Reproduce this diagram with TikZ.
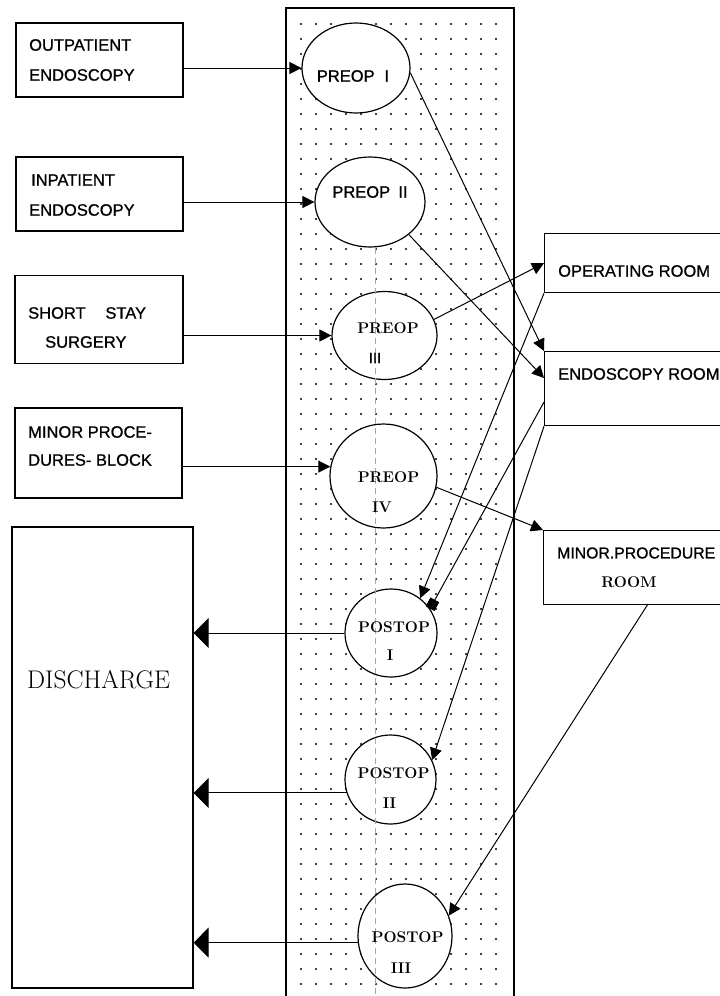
\documentclass[tikz,border=0pt]{standalone}
\usepackage{fontspec}
\newfontfamily\dsans[FakeBold=0.9]{Liberation Sans}
\usetikzlibrary{arrows.meta,shapes.geometric}
\begin{document}
\begin{tikzpicture}[x=1pt,y=-1pt,
  box/.style={draw,line width=1.3pt,rectangle,inner sep=0pt},
  oval/.style={draw,line width=1.2pt,ellipse,fill=white,inner sep=0pt},
  arr/.style={line width=1pt,-{Triangle[length=12pt,width=12pt]}},
  bigarr/.style={line width=1pt,-{Triangle[length=15pt,width=30pt]}},
  sqarr/.style={line width=1pt,-{Square[length=10pt,width=10pt]}},
  sl/.style={font=\dsans\fontsize{16.5}{17}\selectfont,inner sep=0pt,anchor=west},
  sc/.style={font=\dsans\fontsize{16.5}{17}\selectfont,inner sep=0pt},
  rc/.style={font=\bfseries\fontsize{15.5}{17}\selectfont,inner sep=0pt},
]
\useasboundingbox (0,0) rectangle (720,996);
% dotted column
\foreach \i in {0,...,13}{\foreach \j in {0,...,65}{\fill (301+15*\i,24+15*\j) circle (1.2pt);}}
\draw[line width=1.3pt] (286,1000) -- (286,8) -- (514,8) -- (514,1000);

% left boxes
\node[box,minimum width=167pt,minimum height=74pt] (out) at (99.5,60) {};
\node[box,minimum width=167pt,minimum height=74pt] (inp) at (99.5,194) {};
\node[box,minimum width=168pt,minimum height=88pt] (sss) at (99,319.5) {};
\node[box,minimum width=167pt,minimum height=90pt] (mpb) at (98.5,453) {};
\node[box,minimum width=181pt,minimum height=461pt] (dis) at (102.5,757.5) {};

\node[sl] (t1) at (29,45) {OUTPATIENT};
\node[sl] (t2) at (29,75) {ENDOSCOPY};
\node[sl] (t3) at (31,180) {INPATIENT};
\node[sl] (t4) at (29,210) {ENDOSCOPY};
\node[sl] (t5) at (28,313) {SHORT\hspace{1.2em}STAY};
\node[sl] (t6) at (45,342) {SURGERY};
\node[sl] (t7) at (28,432) {MINOR PROCE-};
\node[sl] (t8) at (28,460) {DURES- BLOCK};
\node[inner sep=0pt,anchor=west,font=\fontsize{25.5}{26}\selectfont] (t9) at (27,680) {DISCHARGE};

% right boxes (open to the right edge)
\node[box,anchor=north west,minimum width=182pt,minimum height=59pt] (or) at (544,233) {};
\node[box,anchor=north west,minimum width=182pt,minimum height=74pt] (endo) at (544,351) {};
\node[box,anchor=north west,minimum width=182pt,minimum height=74pt] (mp) at (543,530) {};
\node[sl] (r1) at (558,271) {OPERATING ROOM};
\node[sl] (r2) at (558,374) {ENDOSCOPY ROOM};
\node[sl,font=\dsans\fontsize{15.8}{17}\selectfont] (r3) at (557,553) {MINOR.PROCEDURE};
\node[rc] (r4) at (629,582) {ROOM};
\coordinate (e1) at (544,378);
\coordinate (e2) at (544,402);
\coordinate (m1) at (648,604);

% ellipses
\node[oval,minimum width=108pt,minimum height=90pt] (p1) at (356,68) {};
\node[oval,minimum width=110pt,minimum height=90pt] (p2) at (370,202) {};
\node[oval,minimum width=105pt,minimum height=88pt] (p3) at (384.5,335.5) {};
\node[oval,minimum width=107pt,minimum height=104pt] (p4) at (383.5,476) {};
\node[oval,minimum width=92pt,minimum height=88pt] (p5) at (391,633) {};
\node[oval,minimum width=91pt,minimum height=89pt] (p6) at (390.5,779.5) {};
\node[oval,minimum width=94pt,minimum height=104pt] (p7) at (405,936) {};

% faint fold line
\draw[gray!70,line width=0.4pt,dash pattern=on 6pt off 4pt] (375,248) -- (375,996);

% ellipse labels
\node[sc] (l1) at (353,76) {PREOP\hspace{0.6em}I};
\node[sc] (l2) at (370,192) {PREOP\hspace{0.5em}II};
\node[rc] (l3a) at (388,328) {PREOP};
\node[sc,font=\dsans\fontsize{15}{16}\selectfont] (l3b) at (375,358) {III};
\node[rc] (l4a) at (388.5,477) {PREOP};
\node[rc] (l4b) at (382,507) {IV};
\node[rc] (l5a) at (394,627) {POSTOP};
\node[rc] (l5b) at (390,655) {I};
\node[rc] (l6a) at (393.5,773) {POSTOP};
\node[rc] (l6b) at (389.5,803) {II};
\node[rc] (l7a) at (407.5,937) {POSTOP};
\node[rc] (l7b) at (401,968) {III};

% connectors from the left boxes
\draw[arr] (out.east |- p1.west) -- (p1.west);
\draw[arr] (inp.east |- p2.west) -- (p2.west);
\draw[arr] (sss.east |- p3.west) -- (p3.west);
\draw[arr] (mpb.east |- p4.170) -- (p4.170);

% pre-op to rooms
\draw[arr] (p1.-5) -- (endo.north west);
\draw[arr] (p2.-40) -- (e1);
\draw[arr] (p3.18) -- (or.west);
\draw[arr] (p4.-12) -- (mp.north west);

% rooms to post-op
\draw[arr] (or.south west) -- (p5.50);
\draw[sqarr] (e2) -- (p5.32);
\draw[arr] (endo.south west) -- (p6.25);
\draw[arr] (m1) -- (p7.25);

% post-op to discharge
\draw[bigarr] (p5.west) -- (dis.east |- p5.west);
\draw[bigarr] (p6.197) -- (dis.east |- p6.197);
\draw[bigarr] (p7.188) -- (dis.east |- p7.188);
\end{tikzpicture}
\end{document}
